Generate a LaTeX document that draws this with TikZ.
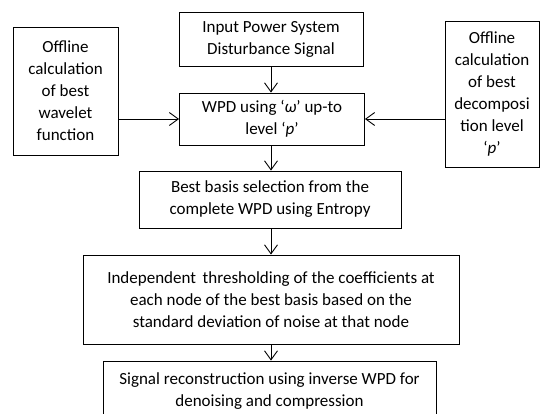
\documentclass[tikz,border=0pt]{standalone}
\usepackage{fontspec}
\setmainfont{Carlito}
\usetikzlibrary{arrows.meta}
\begin{document}
\begin{tikzpicture}[x=1pt,y=-1pt,
  box/.style={draw,line width=0.9pt,align=center,inner sep=0pt,
    font=\fontsize{17}{22}\selectfont},
  arr/.style={line width=0.9pt,-{Straight Barb[length=9pt,width=13pt,line width=0.9pt]}}]
\useasboundingbox (0,0) rectangle (540,414);
\node[box,minimum width=184,minimum height=54] (inp) at (271,39)
  {Input Power System\\Disturbance Signal};
\node[box,minimum width=105,minimum height=128] (left) at (65.5,91)
  {Offline\\calculation\\of best\\wavelet\\function};
\node[box,minimum width=185,minimum height=52] (wpd) at (272,119)
  {WPD using ‘\textit{ω}’ up-to\\level ‘\textit{p}’};
\node[box,minimum width=94,minimum height=146] (right) at (492,94)
  {Offline\\calculation\\of best\\decomposi\\tion level\\‘\textit{p}’};
\node[box,minimum width=262,minimum height=57] (bb) at (270,199.5)
  {Best basis selection from the\\complete WPD using Entropy};
\node[box,minimum width=376,minimum height=89] (ind) at (271,299.5)
  {Independent\, thresholding of the coefficients at\\each node of the best basis based on the\\standard deviation of noise at that node};
\node[box,minimum width=333,minimum height=60] (sig) at (269.5,391)
  {Signal reconstruction using inverse WPD for\\denoising and compression};
\draw[arr] (inp.south -| 271,0) -- (wpd.north -| 271,0);
\draw[arr] (wpd.south -| 271,0) -- (bb.north -| 271,0);
\draw[arr] (bb.south -| 271,0) -- (ind.north -| 271,0);
\draw[arr] (ind.south -| 271,0) -- (sig.north -| 271,0);
\draw[arr] (left.east |- wpd.west) -- (wpd.west);
\draw[arr] (right.west |- wpd.east) -- (wpd.east);
\end{tikzpicture}
\end{document}
